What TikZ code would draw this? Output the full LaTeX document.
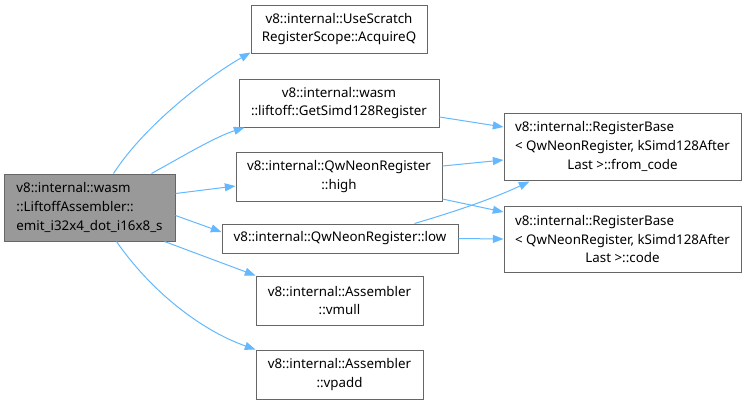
\documentclass[tikz,border=0pt]{standalone}
\usepackage{fontspec}
\setmainfont{Noto Sans}
\usetikzlibrary{arrows.meta,calc}
\definecolor{edgeblue}{HTML}{63B8FF}
\definecolor{bordergray}{HTML}{666666}
\definecolor{mainfill}{HTML}{999999}
\newcommand{\rbline}{\rlap{v8::internal::RegisterBase}\phantom{< QwNeonRegister, kSimd128After}}
\begin{document}
\begin{tikzpicture}[x=0.75pt,y=-0.75pt,
  box/.style={draw=bordergray, line width=0.75pt, fill=white, inner sep=0pt,
    align=center, font=\fontsize{10pt}{14pt}\selectfont},
  edge/.style={draw=edgeblue, line width=0.75pt,
    -{Triangle[length=8pt,width=6pt]}}]
\useasboundingbox (0,0) rectangle (747,405);
\node[box, fill=mainfill, align=left, minimum width=128.25pt, minimum height=50.25pt]
  (main) at (89.5,207.5) {v8::internal::wasm\\::LiftoffAssembler::\\emit\_i32x4\_dot\_i16x8\_s};
\node[box, minimum width=132pt, minimum height=36pt] (acq) at (339,29)
  {v8::internal::UseScratch\\RegisterScope::AcquireQ};
\node[box, minimum width=150pt, minimum height=36pt] (gsr) at (339,103)
  {v8::internal::wasm\\::liftoff::GetSimd128Register};
\node[box, minimum width=154.5pt, minimum height=36.75pt] (high) at (339,176.5)
  {v8::internal::QwNeonRegister\\::high};
\node[box, minimum width=177pt, minimum height=21.75pt] (low) at (340,238.5)
  {v8::internal::QwNeonRegister::low};
\node[box, minimum width=125.25pt, minimum height=36.75pt] (vmull) at (339.5,300.5)
  {v8::internal::Assembler\\::vmull};
\node[box, minimum width=125.25pt, minimum height=36.75pt] (vpadd) at (339.5,374.5)
  {v8::internal::Assembler\\::vpadd};
\node[box, minimum width=177.75pt, minimum height=50.25pt] (fc) at (622.5,146.5)
  {\rbline\\< QwNeonRegister, kSimd128After\\Last >::from\_code};
\node[box, minimum width=177.75pt, minimum height=49.5pt] (code) at (622.5,239)
  {\rbline\\< QwNeonRegister, kSimd128After\\Last >::code};
% edges
\draw[edge] ($(main.north west)+(110,0)$) .. controls (144,126) and (206,78) .. ($(acq.south west)+(0,-1)$);
\draw[edge] ($(main.north west)+(148,0)$) .. controls (185,155) and (215,137) .. ($(gsr.south west)+(6,0)$);
\draw[edge] ($(main.north east)+(0,20)$) -- ($(high.west)+(0,9.5)$);
\draw[edge] ($(main.north east)+(0,42)$) -- ($(low.west)+(0,-6.5)$);
\draw[edge] ($(main.south west)+(161,0)$) -- (vmull.north west);
\draw[edge] ($(main.south west)+(113,0)$) .. controls (150,290) and (200,330) .. (vpadd.north west);
\draw[edge] ($(gsr.east)+(0,14)$) -- ($(fc.west)+(0,-19.5)$);
\draw[edge] ($(high.east)+(0,-10.5)$) -- ($(fc.west)+(0,13.5)$);
\draw[edge] ($(high.east)+(0,22.5)$) -- ($(code.west)+(0,-27)$);
\draw[edge] ($(low.north west)+(193,0)$) .. controls (450,213) and (490,200) .. ($(fc.south west)+(26,1)$);
\draw[edge] (low.east) -- (code.west);
\end{tikzpicture}
\end{document}
